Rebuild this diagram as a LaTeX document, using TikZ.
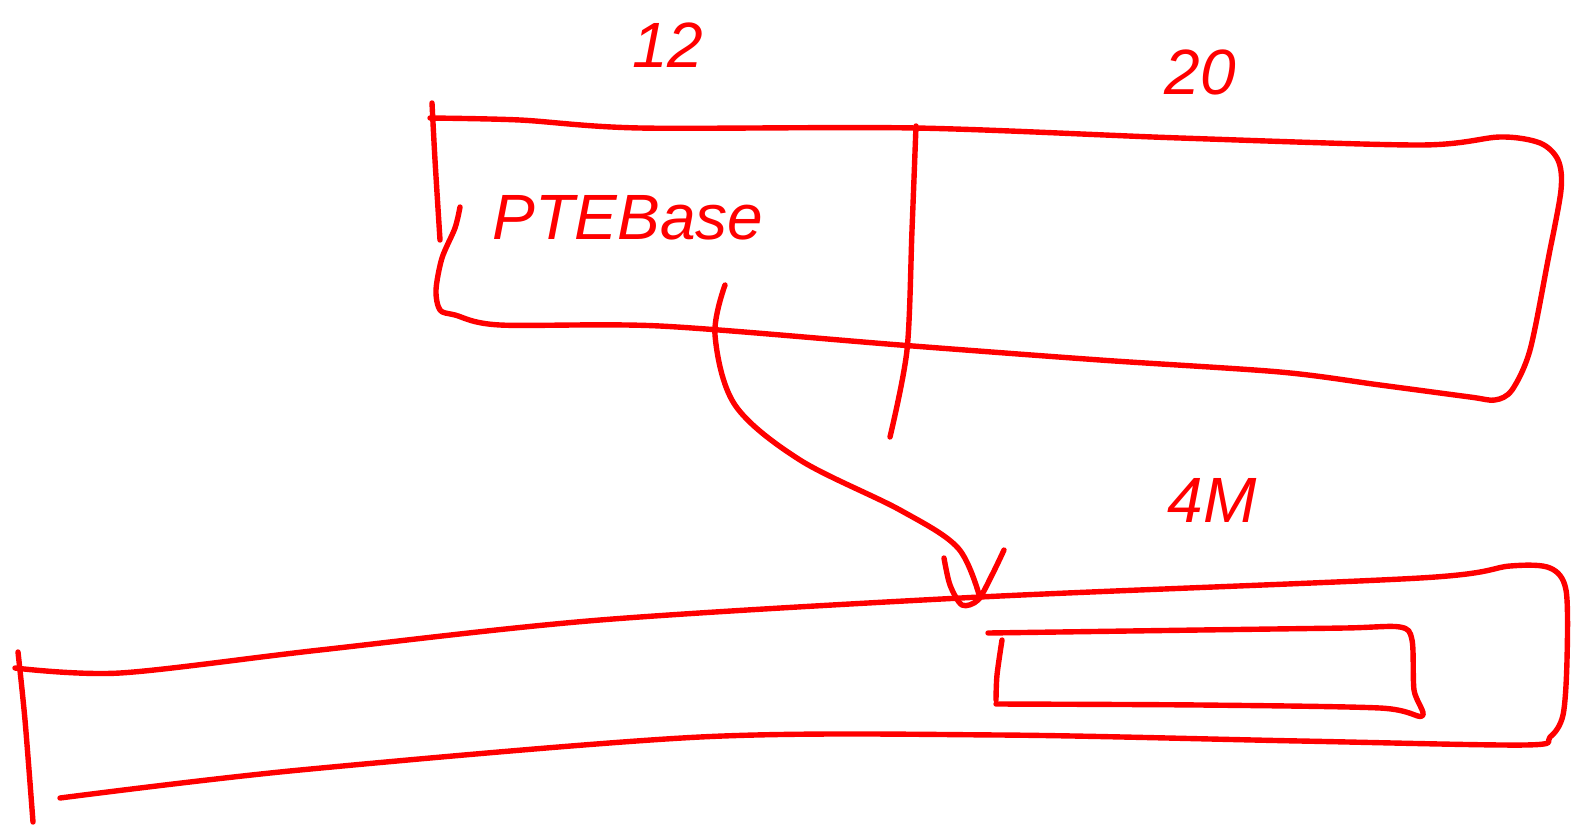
\documentclass[tikz,border=0pt]{standalone}
\usepackage{fontspec}
\setmainfont{Liberation Sans}
\begin{document}
\begin{tikzpicture}[x=1pt,y=-1pt,
  ink/.style={draw=red,line width=5.4pt,line cap=round,line join=round},
  lbl/.style={text=red,font=\fontsize{64}{66}\selectfont\itshape,inner sep=0pt}]
\useasboundingbox (0,0) rectangle (1580,831);
% top bar
\draw[ink] plot[smooth,tension=0.5] coordinates {(430,118) (520,120) (640,128) (916,128) (1180,138) (1420,145) (1500,137) (1540,143) (1558,160) (1561,190) (1548,260) (1530,350) (1512,390) (1495,400) (1470,397) (1380,385) (1280,372) (1100,360) (900,345) (660,326) (500,325) (455,315) (440,310) (436,290) (442,258) (455,228) (460,207)};
\draw[ink] plot[smooth,tension=0.5] coordinates {(432,103) (435,160) (440,240)};
\draw[ink] plot[smooth,tension=0.5] coordinates {(916,126) (912,230) (907,350) (890,437)};
% bottom bar
\draw[ink] plot[smooth,tension=0.5] coordinates {(15,668) (120,673) (320,650) (600,620) (980,597) (1420,578) (1510,566) (1550,568) (1566,590) (1567,660) (1563,715) (1550,737) (1525,745) (1300,741) (1000,735) (700,737) (300,770) (60,798)};
\draw[ink] plot[smooth,tension=0.5] coordinates {(18,652) (25,720) (33,822)};
% inner box
\draw[ink] plot[smooth,tension=0.5] coordinates {(988,633) (1200,630) (1345,628) (1400,627) (1412,640) (1414,690) (1422,716) (1380,708) (1200,705) (996,704)};
\draw[ink] plot[smooth,tension=0.5] coordinates {(1002,640) (997,675) (996,700)};
% arrow
\coordinate (s) at (725,285);
\coordinate (e) at (980,598);
\draw[ink] plot[smooth,tension=0.55] coordinates {(725,285) (715,335) (735,405) (800,460) (900,510) (958,548) (980,598)};
\draw[ink] plot[smooth,tension=0.5] coordinates {(944,558) (950,585) (962,605) (978,600) (992,575) (1004,550)};
% labels
\node[lbl] (l12) at (668,45) {12};
\node[lbl] (l20) at (1200,72) {20};
\node[lbl] (pte) at (628,218) {PTEBase};
\node[lbl] (l4m) at (1212,500) {4M};
\end{tikzpicture}
\end{document}
